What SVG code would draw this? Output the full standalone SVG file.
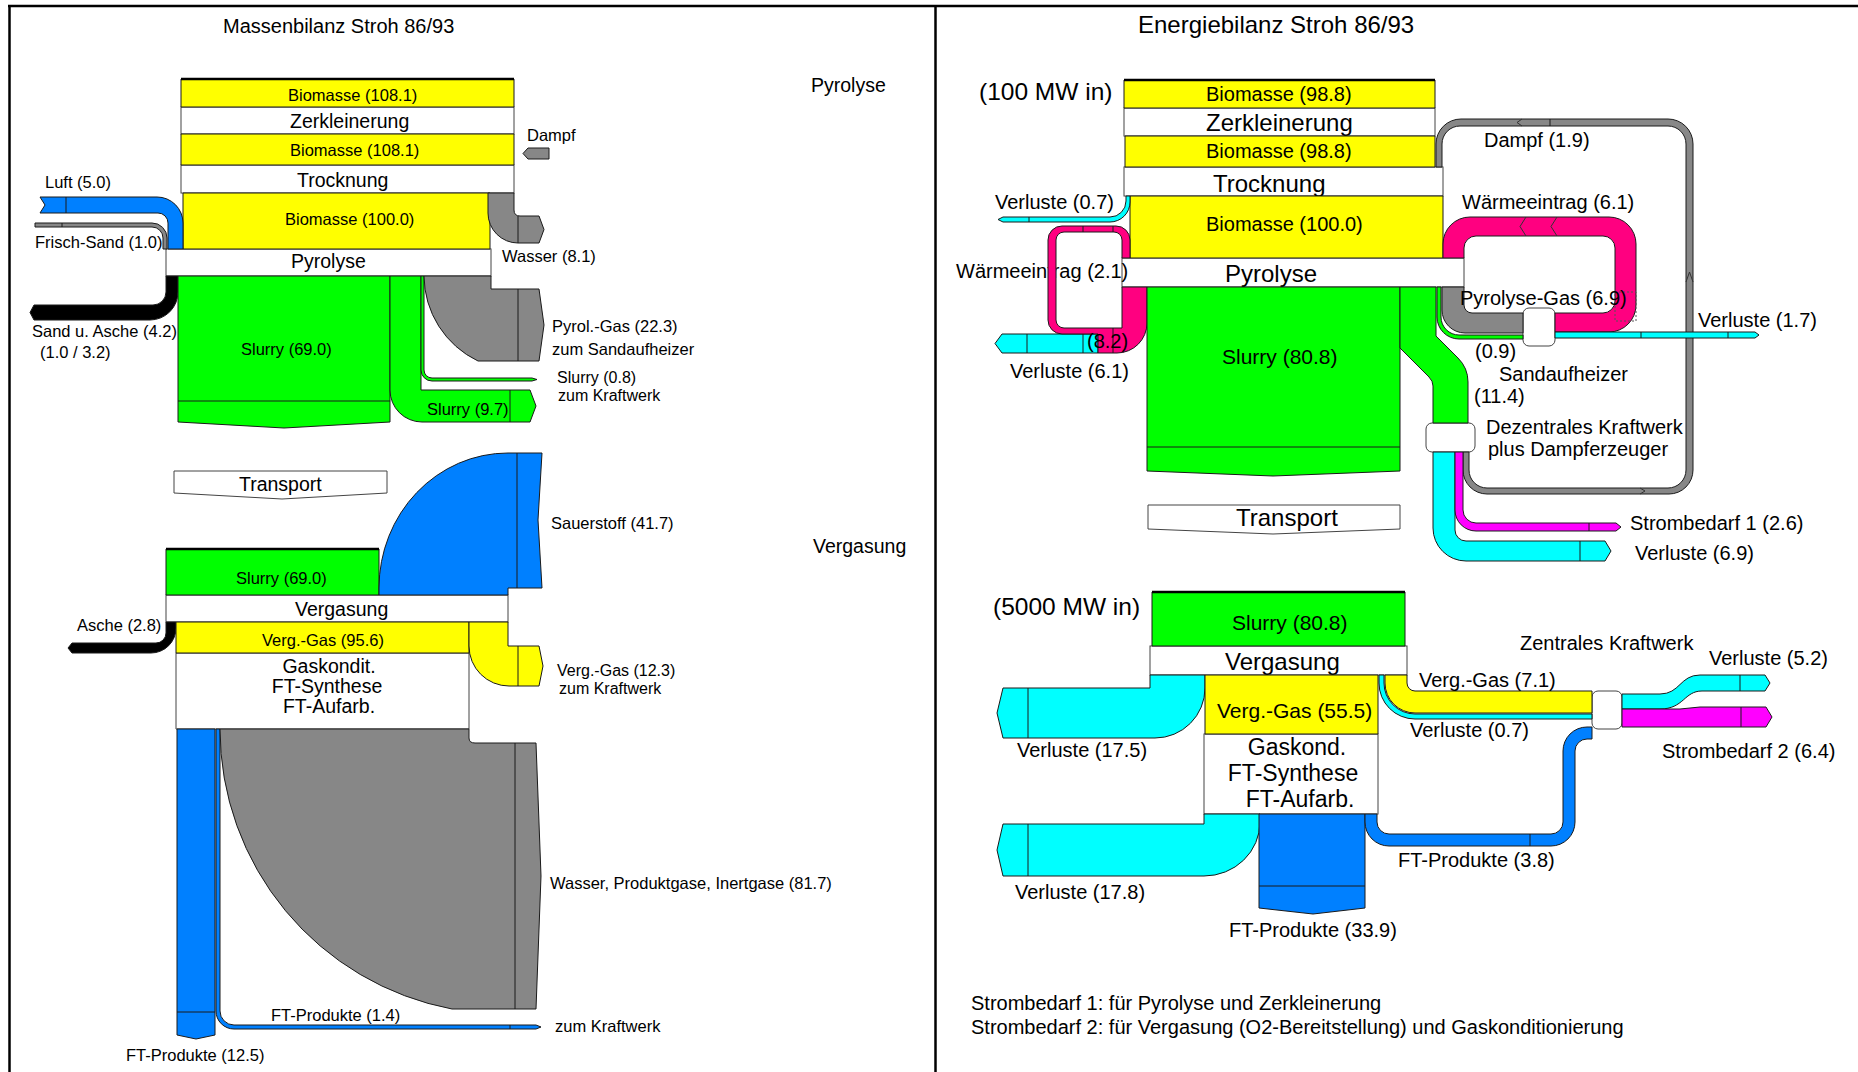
<svg xmlns="http://www.w3.org/2000/svg" width="1858" height="1072" viewBox="0 0 1858 1072">
<style>
.f{stroke:#1a1a1a;stroke-width:1;stroke-linejoin:round}
.y{fill:#ffff00}.g{fill:#00ff00}.b{fill:#0080ff}.c{fill:#00ffff}.m{fill:#ff00ff}.p{fill:#ff0080}.gr{fill:#878787}.k{fill:#000}
.box{fill:#fff;stroke:#444;stroke-width:1}
.sep{stroke:#1a1a1a;stroke-width:1;fill:none}
.top{stroke:#000;stroke-width:2.5}
.chev{stroke:#333;stroke-width:1;fill:none}
text{font-family:"Liberation Sans",Arial,Helvetica,sans-serif;fill:#000}
.s1{font-size:16.5px}.s0{font-size:16px}.s2{font-size:19.5px}.s3{font-size:20px}.s4{font-size:24px}.s5{font-size:21px}.s6{font-size:23px}
</style>
<rect width="1858" height="1072" fill="#fff"/>
<g id="frame" stroke="#000" stroke-width="2.5">
<line x1="8" y1="6" x2="1858" y2="6"/>
<line x1="9.5" y1="5" x2="9.5" y2="1072"/>
<line x1="935.5" y1="5" x2="935.5" y2="1072"/>
</g>
<g id="titles">
<text class="s3" x="223" y="33">Massenbilanz Stroh 86/93</text>
<text class="s4" x="1138" y="33">Energiebilanz Stroh 86/93</text>
<text class="s2" x="811" y="92">Pyrolyse</text>
<text class="s2" x="813" y="553">Vergasung</text>
<text class="s4" x="979" y="100" style="font-size:24.5px">(100 MW in)</text>
<text class="s4" x="993" y="615" style="font-size:24.5px">(5000 MW in)</text>
</g>
<!-- nodes -->
<g id="node-zerkleinerung-m"><rect class="box" x="181" y="107" width="333" height="27"/><text class="s2" x="290" y="128">Zerkleinerung</text></g>
<g id="node-trocknung-m"><rect class="box" x="181" y="165" width="333" height="28"/><text class="s2" x="297" y="187">Trocknung</text></g>
<g id="node-pyrolyse-m"><rect class="box" x="166" y="249" width="325" height="27"/><text class="s2" x="291" y="268">Pyrolyse</text></g>
<g id="node-transport-m"><path class="box" d="M174 471 L387 471 L387 493 L282 499 L174 493 Z"/><text class="s2" x="239" y="491">Transport</text></g>
<g id="node-vergasung-m"><rect class="box" x="166" y="595" width="342" height="27"/><text class="s2" x="295" y="616">Vergasung</text></g>
<g id="node-gaskondit-m"><path class="box" d="M176 653 L469 653 L469 729 L176 729 Z"/>
<text class="s2" text-anchor="middle" x="329" y="673">Gaskondit.</text><text class="s2" text-anchor="middle" x="327" y="693">FT-Synthese</text><text class="s2" text-anchor="middle" x="329" y="713">FT-Aufarb.</text></g>
<g id="node-zerkleinerung-e"><rect class="box" x="1124" y="108" width="311" height="28"/><text class="s4" x="1206" y="131">Zerkleinerung</text></g>
<g id="node-trocknung-e"><rect class="box" x="1124" y="167" width="319" height="29"/><text class="s4" x="1213" y="192">Trocknung</text></g>
<g id="node-pyrolyse-e"><rect class="box" x="1122" y="258" width="342" height="29"/><text class="s4" x="1225" y="282">Pyrolyse</text></g>
<g id="node-transport-e"><path class="box" d="M1148 505 L1400 505 L1400 529 L1273 534 L1148 529 Z"/><text class="s4" x="1236" y="526">Transport</text></g>
<g id="node-vergasung-e"><rect class="box" x="1150" y="646" width="257" height="29"/><text class="s4" x="1225" y="670">Vergasung</text></g>
<g id="node-gaskond-e"><rect class="box" x="1204" y="734" width="174" height="80"/>
<text class="s6" text-anchor="middle" x="1297" y="755">Gaskond.</text><text class="s6" text-anchor="middle" x="1293" y="781">FT-Synthese</text><text class="s6" text-anchor="middle" x="1300" y="807">FT-Aufarb.</text></g>
<g id="node-sandaufheizer"><rect class="box" x="1523" y="308" width="32" height="38" rx="6"/></g>
<g id="node-dezentrales-kw"><rect class="box" x="1426" y="423" width="49" height="29" rx="6"/></g>
<g id="node-zentrales-kw"><rect class="box" x="1592" y="691" width="30" height="38" rx="6"/></g>
<text class="s3" x="956" y="278">Wärmeeintrag (2.1)</text>
<g id="connectors">
<!-- left: Massenbilanz -->
<rect class="f y" x="181" y="79" width="333" height="28"/><line class="top" x1="181" y1="79" x2="514" y2="79"/>
<rect class="f y" x="181" y="134" width="333" height="31"/>
<rect class="f y" x="183" y="193" width="307" height="56"/>
<path class="f gr" d="M488 193 L514 193 L514 210 Q514 216 520 216 L539 216 L544 229.5 L539 243 L518 243 A30 30 0 0 1 488 213 Z"/>
<line class="sep" x1="518" y1="216" x2="518" y2="243"/>
<path class="f gr" d="M549 148 L549 159 L528 159 L523 153.5 L528 148 Z"/>
<path class="f b" d="M40 197 L157 197 A26 26 0 0 1 183 223 L183 249 L168 249 L168 223 A10 10 0 0 0 158 213 L40 213 L45 205 Z"/>
<line class="sep" x1="66" y1="197" x2="66" y2="213"/>
<path class="f gr" d="M35 223 L152 223 A15 15 0 0 1 167 238 L167 249 L163 249 L163 238 A11 11 0 0 0 152 227 L35 227 Z"/>
<line class="sep" x1="62" y1="223" x2="62" y2="227"/>
<path class="f k" d="M166 276 L178 276 L178 292 A28 28 0 0 1 150 320 L34 320 L30 312.5 L34 305 L153 305 A13 13 0 0 0 166 292 Z"/>
<path class="f g" d="M178 276 L390 276 L390 422 L284 428 L178 422 Z"/>
<line class="sep" x1="178" y1="401" x2="390" y2="401"/>
<path class="f g" d="M390 276 L421 276 L421 390 L530 390 L536 406 L530 422 L422 422 A32 32 0 0 1 390 390 Z"/>
<line class="sep" x1="510" y1="390" x2="510" y2="422"/>
<path class="f g" d="M421 276 L424 276 L424 370 A8 8 0 0 0 432 378 L532 378 L537 379.5 L532 381 L432 381 A11 11 0 0 1 421 370 Z"/>
<path class="f gr" d="M424 276 L491 276 L491 289 L539 289 L544 325 L539 361 L478 361 A95 95 0 0 1 424 276 Z"/>
<line class="sep" x1="518" y1="289" x2="518" y2="361"/>
<rect class="f g" x="166" y="549" width="213" height="46"/><line class="top" x1="166" y1="549" x2="379" y2="549"/>
<path class="f b" d="M379 595 L379 588 A129 135 0 0 1 508 453 L542 453 L538 520 L542 588 L508 588 L508 595 Z"/>
<line class="sep" x1="517" y1="453" x2="517" y2="588"/>
<path class="f k" d="M166 622 L176 622 L176 628 A25 25 0 0 1 151 653 L72 653 L68 648 L72 643 L156 643 A10 10 0 0 0 166 633 Z"/>
<rect class="f y" x="176" y="622" width="293" height="31"/>
<path class="f y" d="M469 622 L508 622 L508 646 L539 646 L543 666 L539 686 L509 686 A40 40 0 0 1 469 646 Z"/>
<line class="sep" x1="518" y1="646" x2="518" y2="686"/>
<path class="f b" d="M177 729 L215 729 L215 1035 L196 1039 L177 1035 Z"/>
<line class="sep" x1="177" y1="1012" x2="215" y2="1012"/>
<path class="f b" d="M216 729 L220 729 L220 1011 A14 14 0 0 0 234 1025 L536 1025 L541 1027 L536 1029 L234 1029 A18 18 0 0 1 216 1011 Z"/>
<line class="sep" x1="510" y1="1025" x2="510" y2="1029"/>
<path class="f gr" d="M220 729 L469 729 L469 738 Q469 743 475 743 L536 743 L541 876 L536 1009 L452 1009 A285 285 0 0 1 220 729 Z"/>
<line class="sep" x1="515" y1="743" x2="515" y2="1009"/>
<!-- right: Energiebilanz -->
<rect class="f y" x="1124" y="80" width="311" height="28"/><line class="top" x1="1124" y1="80" x2="1435" y2="80"/>
<rect class="f y" x="1125" y="136" width="310" height="31"/>
<rect class="f y" x="1130" y="196" width="313" height="62"/>
<path class="f c" d="M1126 196 L1130 196 L1130 202 A20 20 0 0 1 1110 222 L1003 222 L998 219.5 L1003 217 L1110 217 A16 16 0 0 0 1126 201 Z"/>
<line class="sep" x1="1029" y1="217" x2="1029" y2="222"/>
<path class="f c" d="M1098 334 L1098 353 L1002 353 L995 343.5 L1002 334 Z"/>
<line class="sep" x1="1027" y1="334" x2="1027" y2="353"/>
<line class="sep" x1="1083" y1="334" x2="1083" y2="353"/>
<path class="f p" d="M1122 287 L1147 287 L1147 323 A30 30 0 0 1 1117 353 L1098 353 L1098 334 L1062 334 A14 14 0 0 1 1048 320 L1048 240 A14 14 0 0 1 1062 226 L1116 226 A14 14 0 0 1 1130 240 L1130 258 L1122 258 L1122 240 A8 8 0 0 0 1114 232 L1064 232 A8 8 0 0 0 1056 240 L1056 320 A8 8 0 0 0 1064 328 L1122 328 Z"/>
<line class="sep" x1="1113" y1="328" x2="1113" y2="353"/>
<line class="sep" x1="1083" y1="226" x2="1083" y2="232"/>
<line class="sep" x1="1113" y1="226" x2="1113" y2="232"/>
<path class="f g" d="M1147 287 L1400 287 L1400 471 L1273 476 L1147 471 Z"/>
<line class="sep" x1="1147" y1="447" x2="1400" y2="447"/>
<path class="f g" d="M1400 287 L1436 287 L1436 336 L1458 358 Q1468 368 1468 382 L1468 423 L1433 423 L1433 386 Q1433 381 1429 377 L1400 348 Z"/>
<path class="f g" d="M1437 287 L1441 287 L1441 317 A18 18 0 0 0 1459 335 L1523 335 L1523 339 L1459 339 A22 22 0 0 1 1437 317 Z"/>
<path class="f gr" d="M1442 287 L1464 287 L1464 305 A8 8 0 0 0 1472 313 L1523 313 L1523 333 L1465 333 A23 23 0 0 1 1442 310 Z"/>
<path class="f p" d="M1555 313 L1603 313 A12 12 0 0 0 1615 301 L1615 248 A12 12 0 0 0 1603 236 L1476 236 A12 12 0 0 0 1464 248 L1464 258 L1443 258 L1443 244 A27 27 0 0 1 1470 217 L1609 217 A27 27 0 0 1 1636 244 L1636 305 A27 27 0 0 1 1609 332 L1555 332 Z"/>
<polyline class="chev" points="1526,217 1520,226.5 1526,236"/>
<polyline class="chev" points="1557,217 1551,226.5 1557,236"/>
<rect x="1615" y="292" width="21" height="29" fill="none" stroke="#555" stroke-width="1" stroke-dasharray="2 2"/>
<path class="f gr" d="M1463 452 L1469 452 L1469 470 A18 18 0 0 0 1487 488 L1668 488 A18 18 0 0 0 1686 470 L1686 144 A18 18 0 0 0 1668 126 L1460 126 A18 18 0 0 0 1442 144 L1442 167 L1436 167 L1436 144 A25 25 0 0 1 1461 119 L1668 119 A25 25 0 0 1 1693 144 L1693 470 A24 24 0 0 1 1669 494 L1487 494 A24 24 0 0 1 1463 470 Z"/>
<polyline class="chev" points="1522,119 1517,122.5 1522,126"/>
<line class="sep" x1="1550" y1="119" x2="1550" y2="126"/>
<polyline class="chev" points="1686,282 1689.5,272 1693,282"/>
<polyline class="chev" points="1640,488 1645,491 1640,494"/>
<path class="f c" d="M1555 332 L1755 332 L1759 335 L1755 338 L1555 338 Z"/>
<line class="sep" x1="1641" y1="332" x2="1641" y2="338"/>
<line class="sep" x1="1728" y1="332" x2="1728" y2="338"/>
<path class="f c" d="M1433 452 L1455 452 L1455 530 A11 11 0 0 0 1466 541 L1605 541 L1611 551 L1605 561 L1466 561 A33 33 0 0 1 1433 528 Z"/>
<line class="sep" x1="1580" y1="541" x2="1580" y2="561"/>
<path class="f m" d="M1455 452 L1463 452 L1463 510 A13 13 0 0 0 1476 523 L1616 523 L1621 527 L1616 531 L1476 531 A21 21 0 0 1 1455 510 Z"/>
<line class="sep" x1="1589" y1="523" x2="1589" y2="531"/>
<rect class="f g" x="1152" y="592" width="253" height="54"/><line class="top" x1="1152" y1="592" x2="1405" y2="592"/>
<path class="f c" d="M1150 675 L1205 675 L1205 688 A50 50 0 0 1 1155 738 L1003 738 L997 713 L1003 688 L1150 688 Z"/>
<line class="sep" x1="1028" y1="688" x2="1028" y2="738"/>
<rect class="f y" x="1205" y="675" width="173" height="59"/>
<path class="f c" d="M1379 675 L1384 675 L1384 683 A31 31 0 0 0 1415 714 L1592 714 L1592 719 L1415 719 A36 36 0 0 1 1379 683 Z"/>
<path class="f y" d="M1385 675 L1407 675 L1407 683 A8 8 0 0 0 1415 691 L1592 691 L1592 713 L1415 713 A30 30 0 0 1 1385 683 Z"/>
<path class="f c" d="M1622 694 L1660 694 C1680 694 1680 675 1700 675 L1765 675 L1770 683 L1765 691 L1702 691 C1684 691 1684 709 1660 709 L1622 709 Z"/>
<line class="sep" x1="1740" y1="675" x2="1740" y2="691"/>
<path class="f m" d="M1622 709 L1680 709 L1700 707 L1766 707 L1772 717 L1766 727 L1622 727 Z"/>
<line class="sep" x1="1741" y1="707" x2="1741" y2="727"/>
<path class="f c" d="M1204 814 L1260 814 L1260 822 A56 54 0 0 1 1204 876 L1003 876 L997 850 L1003 824 L1204 824 Z"/>
<line class="sep" x1="1028" y1="824" x2="1028" y2="876"/>
<path class="f b" d="M1259 814 L1365 814 L1365 908 L1313 914 L1259 908 Z"/>
<line class="sep" x1="1259" y1="886" x2="1365" y2="886"/>
<path class="f b" d="M1365 814 L1377 814 L1377 822 A12 12 0 0 0 1389 834 L1551 834 A12 12 0 0 0 1563 822 L1563 751 A24 24 0 0 1 1587 727 L1592 727 L1592 739 L1587 739 A12 12 0 0 0 1575 751 L1575 822 A24 24 0 0 1 1551 846 L1389 846 A24 24 0 0 1 1365 822 Z"/>
<line class="sep" x1="1530" y1="834" x2="1530" y2="846"/>
</g>
<g id="labels">
<text class="s1" x="288" y="101">Biomasse (108.1)</text>
<text class="s1" x="290" y="156">Biomasse (108.1)</text>
<text class="s1" x="285" y="225">Biomasse (100.0)</text>
<text class="s1" x="45" y="188">Luft (5.0)</text>
<text class="s1" x="35" y="248">Frisch-Sand (1.0)</text>
<text class="s1" x="32" y="337">Sand u. Asche (4.2)</text>
<text class="s1" x="40" y="358">(1.0 / 3.2)</text>
<text class="s1" x="241" y="355">Slurry (69.0)</text>
<text class="s1" x="527" y="141">Dampf</text>
<text class="s1" x="502" y="262">Wasser (8.1)</text>
<text class="s1" x="552" y="332">Pyrol.-Gas (22.3)</text>
<text class="s1" x="552" y="355">zum Sandaufheizer</text>
<text class="s0" x="557" y="383">Slurry (0.8)</text>
<text class="s0" x="558" y="401">zum Kraftwerk</text>
<text class="s1" x="427" y="415">Slurry (9.7)</text>
<text class="s1" x="551" y="529">Sauerstoff (41.7)</text>
<text class="s1" x="236" y="584">Slurry (69.0)</text>
<text class="s1" x="77" y="631">Asche (2.8)</text>
<text class="s1" x="262" y="646">Verg.-Gas (95.6)</text>
<text class="s0" x="557" y="676">Verg.-Gas (12.3)</text>
<text class="s0" x="559" y="694">zum Kraftwerk</text>
<text class="s1" x="550" y="889">Wasser, Produktgase, Inertgase (81.7)</text>
<text class="s1" x="271" y="1021">FT-Produkte (1.4)</text>
<text class="s1" x="555" y="1032">zum Kraftwerk</text>
<text class="s1" x="126" y="1061">FT-Produkte (12.5)</text>
<text class="s3" x="1206" y="101">Biomasse (98.8)</text>
<text class="s3" x="1206" y="158">Biomasse (98.8)</text>
<text class="s3" x="1206" y="231">Biomasse (100.0)</text>
<text class="s5" x="1222" y="364">Slurry (80.8)</text>
<text class="s3" x="995" y="209">Verluste (0.7)</text>
<text class="s3" x="1087" y="348">(8.2)</text>
<text class="s3" x="1010" y="378">Verluste (6.1)</text>
<text class="s3" x="1484" y="147">Dampf (1.9)</text>
<text class="s3" x="1462" y="209">Wärmeeintrag (6.1)</text>
<text class="s3" x="1460" y="305">Pyrolyse-Gas (6.9)</text>
<text class="s3" x="1698" y="327">Verluste (1.7)</text>
<text class="s3" x="1475" y="358">(0.9)</text>
<text class="s3" x="1499" y="381">Sandaufheizer</text>
<text class="s3" x="1474" y="403">(11.4)</text>
<text class="s3" x="1486" y="434">Dezentrales Kraftwerk</text>
<text class="s3" x="1488" y="456">plus Dampferzeuger</text>
<text class="s3" x="1630" y="530">Strombedarf 1 (2.6)</text>
<text class="s3" x="1635" y="560">Verluste (6.9)</text>
<text class="s5" x="1232" y="630">Slurry (80.8)</text>
<text class="s3" x="1520" y="650">Zentrales Kraftwerk</text>
<text class="s3" x="1709" y="665">Verluste (5.2)</text>
<text class="s3" x="1419" y="687">Verg.-Gas (7.1)</text>
<text class="s5" x="1217" y="718">Verg.-Gas (55.5)</text>
<text class="s3" x="1410" y="737">Verluste (0.7)</text>
<text class="s3" x="1662" y="758">Strombedarf 2 (6.4)</text>
<text class="s3" x="1017" y="757">Verluste (17.5)</text>
<text class="s3" x="1015" y="899">Verluste (17.8)</text>
<text class="s3" x="1398" y="867">FT-Produkte (3.8)</text>
<text class="s3" x="1229" y="937">FT-Produkte (33.9)</text>
<text class="s3" x="971" y="1010">Strombedarf 1: für Pyrolyse und Zerkleinerung</text>
<text class="s3" x="971" y="1034">Strombedarf 2: für Vergasung (O2-Bereitstellung) und Gaskonditionierung</text>
</g>
</svg>
